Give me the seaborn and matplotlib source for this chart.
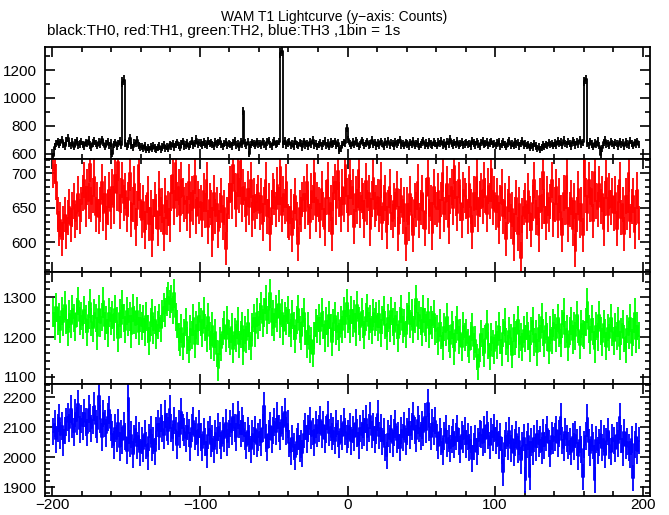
import numpy as np
import matplotlib
matplotlib.use("Agg")
import matplotlib.pyplot as plt
import seaborn as sns
from matplotlib.ticker import MultipleLocator

sns.set_theme(style="ticks")
plt.rcParams['font.family'] = ['Liberation Sans', 'DejaVu Sans']

# ---- data: 1-s bins starting at t = -200 s ----
t_start = -200

th0 = [
    580, 650, 672, 688, 664, 679, 701, 668, 655, 690, 712, 673, 660, 684, 651, 677, 695, 662, 670, 686,
    668, 655, 681, 673, 699, 662, 648, 676, 690, 671, 657, 684, 666, 703, 679, 650, 672, 688, 661, 677,
    600, 668, 681, 655, 672, 690, 663, 1115, 1128, 676, 652, 669, 712, 660, 645, 680, 671, 700, 656, 648,
    652, 638, 661, 630, 644, 627, 650, 635, 658, 641, 629, 647, 655, 633, 648, 662, 640, 651, 637, 666,
    655, 672, 648, 666, 681, 659, 643, 670, 689, 654, 663, 677, 650, 668, 692, 661, 674, 705, 668, 680,
    676, 662, 684, 670, 658, 691, 673, 681, 664, 655, 687, 670, 679, 692, 667, 653, 675, 684, 661, 672,
    668, 655, 679, 690, 662, 673, 648, 684, 670, 905, 676, 660, 687, 598, 665, 682, 671, 657, 688, 669,
    674, 661, 688, 670, 655, 683, 696, 667, 652, 679, 690, 664, 671, 685, 1322, 1336, 668, 692, 659, 677,
    686, 661, 673, 650, 692, 668, 657, 680, 671, 646, 688, 662, 675, 654, 683, 667, 699, 660, 672, 651,
    668, 680, 655, 673, 692, 661, 676, 650, 684, 666, 671, 689, 658, 677, 622, 640, 668, 681, 674, 785,
    702, 671, 657, 683, 664, 690, 676, 652, 668, 695, 680, 661, 674, 688, 659, 670, 699, 665, 681, 654,
    676, 662, 689, 671, 650, 684, 667, 693, 660, 678, 672, 655, 686, 669, 680, 701, 663, 675, 657, 682,
    670, 653, 681, 664, 690, 658, 672, 685, 649, 667, 679, 694, 661, 676, 656, 688, 669, 660, 683, 671,
    658, 684, 672, 690, 663, 677, 651, 686, 668, 704, 673, 660, 681, 666, 692, 657, 675, 683, 662, 670,
    681, 666, 673, 655, 690, 677, 662, 685, 670, 652, 679, 693, 664, 672, 684, 659, 676, 688, 667, 673,
    660, 676, 689, 654, 670, 683, 665, 649, 677, 692, 661, 672, 656, 684, 669, 680, 652, 675, 690, 663,
    671, 657, 666, 643, 660, 648, 672, 655, 639, 651, 628, 645, 662, 650, 667, 656, 680, 664, 673, 658,
    677, 663, 690, 671, 684, 660, 698, 675, 666, 687, 672, 655, 693, 679, 662, 686, 670, 701, 668, 681,
    1118, 1132, 674, 660, 688, 669, 651, 677, 665, 690, 658, 592, 640, 681, 697, 668, 675, 659, 686, 671,
    663, 680, 672, 655, 689, 667, 678, 652, 684, 670, 661, 693, 675, 658, 681, 669, 688, 664,
]

th1 = [
    705, 712, 688, 641, 620, 633, 605, 628, 640, 615, 636, 652, 625, 648, 660, 631, 643, 670, 638, 655,
    672, 690, 648, 681, 660, 714, 655, 668, 695, 640, 662, 637, 655, 688, 642, 670, 628, 651, 676, 645,
    680, 652, 698, 671, 716, 645, 668, 690, 657, 675, 640, 662, 701, 633, 655, 684, 620, 649, 712, 661,
    632, 658, 615, 644, 671, 627, 650, 603, 638, 662, 645, 620, 677, 640, 654, 612, 668, 636, 649, 625,
    672, 698, 650, 715, 662, 681, 640, 690, 667, 655, 660, 642, 688, 631, 671, 650, 697, 638, 664, 652,
    658, 633, 675, 646, 690, 622, 661, 650, 604, 672, 638, 655, 617, 646, 668, 629, 650, 591, 641, 660,
    684, 660, 712, 675, 648, 699, 668, 718, 655, 681, 662, 640, 677, 651, 690, 633, 668, 645, 659, 672,
    643, 668, 627, 655, 690, 638, 661, 612, 650, 675, 666, 648, 683, 655, 710, 640, 670, 652, 687, 631,
    628, 652, 610, 645, 667, 633, 598, 650, 641, 662, 670, 645, 688, 651, 630, 675, 658, 701, 640, 662,
    655, 632, 678, 648, 620, 665, 690, 641, 657, 612, 671, 688, 650, 703, 662, 640, 681, 655, 712, 668,
    640, 698, 665, 681, 623, 670, 652, 705, 647, 668, 660, 631, 689, 651, 672, 620, 663, 694, 648, 657,
    666, 640, 690, 628, 657, 672, 615, 651, 680, 643, 631, 660, 648, 677, 612, 652, 668, 637, 655, 598,
    655, 627, 670, 640, 611, 661, 648, 688, 632, 650, 672, 645, 620, 667, 693, 638, 657, 613, 680, 651,
    648, 675, 630, 662, 700, 641, 658, 685, 622, 667, 681, 650, 711, 664, 642, 690, 657, 632, 676, 668,
    660, 637, 684, 652, 615, 671, 648, 695, 640, 663, 675, 652, 690, 668, 641, 682, 660, 706, 650, 671,
    644, 668, 622, 657, 681, 638, 660, 605, 652, 670, 630, 648, 598, 641, 665, 612, 655, 577, 639, 651,
    660, 630, 675, 642, 618, 657, 690, 636, 650, 611, 668, 645, 702, 652, 628, 671, 640, 659, 690, 633,
    655, 681, 632, 668, 644, 610, 672, 650, 697, 626, 648, 665, 620, 660, 588, 641, 677, 632, 655, 610,
    720, 668, 642, 690, 655, 677, 631, 702, 660, 648, 685, 652, 670, 620, 664, 693, 640, 675, 651, 668,
    642, 671, 620, 658, 690, 636, 655, 612, 667, 644, 700, 631, 652, 668, 615, 650, 676, 628,
]

th2 = [
    1262, 1228, 1275, 1240, 1251, 1219, 1266, 1237, 1280, 1244, 1212, 1258, 1233, 1270, 1247, 1225, 1262, 1291, 1240, 1253,
    1231, 1268, 1245, 1212, 1256, 1285, 1238, 1222, 1261, 1247, 1203, 1270, 1236, 1251, 1290, 1229, 1244, 1211, 1262, 1240,
    1255, 1226, 1271, 1241, 1198, 1260, 1233, 1282, 1247, 1219, 1265, 1238, 1252, 1207, 1274, 1243, 1230, 1266, 1214, 1249,
    1228, 1246, 1213, 1252, 1221, 1190, 1237, 1260, 1218, 1243, 1205, 1231, 1249, 1222, 1258, 1275, 1262, 1290, 1302, 1284,
    1296, 1268, 1310, 1250, 1233, 1201, 1188, 1224, 1176, 1210, 1239, 1192, 1168, 1221, 1205, 1247, 1183, 1230, 1215, 1252,
    1238, 1210, 1265, 1224, 1196, 1251, 1203, 1180, 1227, 1175, 1212, 1158, 1122, 1190, 1173, 1214, 1231, 1196, 1242, 1208,
    1189, 1226, 1170, 1213, 1198, 1241, 1182, 1207, 1229, 1165, 1218, 1194, 1236, 1202, 1178, 1225, 1249, 1211, 1262, 1230,
    1251, 1278, 1236, 1262, 1296, 1244, 1268, 1310, 1239, 1257, 1225, 1270, 1248, 1283, 1233, 1261, 1215, 1252, 1240, 1269,
    1236, 1210, 1257, 1228, 1195, 1244, 1271, 1219, 1203, 1238, 1262, 1214, 1183, 1229, 1170, 1192, 1158, 1204, 1236, 1220,
    1248, 1215, 1262, 1230, 1197, 1241, 1209, 1256, 1224, 1188, 1235, 1252, 1214, 1227, 1201, 1244, 1219, 1265, 1232, 1286,
    1245, 1221, 1268, 1236, 1257, 1212, 1281, 1240, 1226, 1263, 1233, 1205, 1250, 1274, 1229, 1246, 1218, 1260, 1237, 1252,
    1226, 1258, 1210, 1243, 1269, 1231, 1202, 1247, 1222, 1265, 1238, 1214, 1252, 1230, 1197, 1241, 1270, 1219, 1236, 1207,
    1250, 1278, 1233, 1261, 1219, 1245, 1296, 1228, 1256, 1241, 1212, 1270, 1238, 1223, 1264, 1207, 1244, 1230, 1259, 1215,
    1221, 1190, 1235, 1204, 1178, 1226, 1213, 1250, 1196, 1182, 1231, 1207, 1165, 1219, 1242, 1193, 1210, 1174, 1228, 1201,
    1212, 1185, 1168, 1203, 1226, 1177, 1194, 1150, 1125, 1171, 1209, 1188, 1160, 1196, 1233, 1179, 1152, 1201, 1184, 1166,
    1206, 1180, 1227, 1193, 1161, 1210, 1238, 1189, 1172, 1215, 1198, 1156, 1224, 1190, 1207, 1244, 1183, 1201, 1175, 1219,
    1196, 1228, 1203, 1171, 1215, 1240, 1188, 1209, 1162, 1223, 1197, 1250, 1212, 1184, 1229, 1201, 1166, 1218, 1192, 1236,
    1224, 1198, 1247, 1211, 1185, 1232, 1262, 1207, 1221, 1174, 1216, 1240, 1193, 1228, 1203, 1255, 1219, 1180, 1234, 1209,
    1206, 1239, 1288, 1220, 1193, 1245, 1214, 1170, 1228, 1201, 1256, 1215, 1188, 1233, 1210, 1176, 1224, 1199, 1247, 1213,
    1190, 1226, 1203, 1241, 1178, 1214, 1232, 1197, 1169, 1220, 1205, 1248, 1186, 1213, 1262, 1195, 1228, 1204,
]

th3 = [
    2085, 2112, 2060, 2098, 2131, 2073, 2104, 2049, 2090, 2118, 2135, 2098, 2162, 2110, 2084, 2147, 2121, 2176, 2093, 2128,
    2105, 2148, 2117, 2082, 2160, 2131, 2096, 2124, 2171, 2110, 2093, 2205, 2128, 2067, 2146, 2112, 2081, 2135, 2158, 2099,
    2076, 2041, 2098, 2062, 2115, 2033, 2080, 2057, 2104, 2069, 2022, 2198, 2047, 2075, 2010, 2061, 2093, 2038, 2071, 2016,
    2055, 2028, 2079, 2040, 2003, 2066, 2091, 2034, 2057, 2020, 2088, 2112, 2069, 2130, 2095, 2074, 2143, 2101, 2087, 2160,
    2097, 2065, 2122, 2090, 2041, 2113, 2076, 2152, 2099, 2084, 2063, 2105, 2081, 2034, 2097, 2121, 2070, 2088, 2049, 2110,
    2068, 2032, 2085, 2051, 2009, 2074, 2093, 2045, 2062, 2027, 2080, 2056, 2101, 2072, 2038, 2089, 2064, 2115, 2050, 2077,
    2112, 2085, 2134, 2097, 2068, 2140, 2109, 2079, 2121, 2095, 2071, 2039, 2088, 2062, 2026, 2077, 2054, 2093, 2045, 2068,
    2083, 2051, 2097, 2170, 2064, 2032, 2078, 2105, 2058, 2090, 2117, 2085, 2139, 2096, 2071, 2124, 2102, 2150, 2088, 2110,
    2047, 2018, 2063, 2035, 2001, 2052, 2070, 2029, 2044, 2013, 2078, 2103, 2061, 2095, 2120, 2072, 2086, 2049, 2109, 2081,
    2096, 2124, 2075, 2108, 2061, 2093, 2140, 2082, 2101, 2069, 2088, 2055, 2112, 2079, 2043, 2094, 2070, 2118, 2085, 2061,
    2077, 2103, 2054, 2092, 2068, 2115, 2081, 2040, 2096, 2073, 2110, 2084, 2128, 2066, 2097, 2139, 2075, 2101, 2058, 2090,
    2145, 2072, 2098, 2053, 2086, 2034, 2005, 2079, 2061, 2095, 2047, 2082, 2110, 2058, 2073, 2031, 2090, 2066, 2104, 2052,
    2085, 2118, 2074, 2103, 2137, 2090, 2062, 2125, 2096, 2071, 2108, 2084, 2133, 2092, 2180, 2101, 2069, 2115, 2087, 2122,
    2066, 2038, 2084, 2052, 2019, 2071, 2095, 2047, 2063, 2030, 2058, 2081, 2042, 2069, 2096, 2053, 2027, 2074, 2061, 2088,
    2044, 2070, 2031, 2058, 1995, 2036, 2062, 2019, 2053, 2080, 2075, 2049, 2093, 2061, 2108, 2072, 2040, 2086, 2066, 2098,
    2057, 2080, 2041, 2068, 2023, 1950, 2046, 2072, 2036, 2089, 2030, 2061, 2015, 2048, 2076, 2027, 2054, 1990, 2039, 2065,
    1925, 2042, 2070, 1935, 2051, 2019, 2063, 2034, 2077, 2045, 2058, 2022, 2081, 2039, 2066, 2093, 2047, 2012, 2071, 2055,
    2068, 2092, 2047, 2079, 2135, 2056, 2031, 2084, 2062, 2040, 2053, 2018, 2067, 2036, 2075, 2049, 2003, 2058, 2027, 1935,
    2042, 2071, 2130, 2050, 2015, 2066, 2038, 1925, 2059, 2024, 2048, 2077, 2031, 2062, 2009, 2053, 2086, 2040, 2018, 2064,
    2055, 2029, 2073, 2046, 2135, 2061, 2017, 2083, 2039, 2052, 2034, 2010, 2060, 1930, 2043, 2068, 2021, 2055,
]

series = [th0, th1, th2, th3]
colors = ["#000000", "#ff0000", "#00ff00", "#0000ff"]
ylims = [(562, 1365), (557, 721), (1082, 1364), (1871, 2244)]
major = [200, 50, 100, 100]
minor = [100, 10, 20, 20]
x_ticks = [-200, -100, 0, 100, 200]

W, H = 669, 515
fig = plt.figure(figsize=(W / 100, H / 100), dpi=100)
fig.patch.set_facecolor("white")

edges = [47, 159, 272, 384, 496]
left, right = 45, 650
for i, (vals, col) in enumerate(zip(series, colors)):
    top_px, bot_px = edges[i], edges[i + 1]
    ax = fig.add_axes([left / W, 1 - bot_px / H, (right - left) / W, (bot_px - top_px) / H])
    ax.set_facecolor("white")
    y = np.asarray(vals, dtype=float)
    t = t_start + 0.5 + np.arange(len(y))
    sns.lineplot(x=t, y=y, ax=ax, color=col, drawstyle="steps-mid",
                 linewidth=1.3, estimator=None, sort=False)
    err = np.sqrt(y)
    ax.vlines(t, y - err, y + err, color=col, linewidth=1.3)
    ax.set_xlim(-205, 205)
    ax.set_ylim(*ylims[i])
    ax.xaxis.set_major_locator(MultipleLocator(100))
    ax.xaxis.set_minor_locator(MultipleLocator(20))
    ax.yaxis.set_major_locator(MultipleLocator(major[i]))
    ax.yaxis.set_minor_locator(MultipleLocator(minor[i]))
    ax.tick_params(which="both", direction="in", top=True, right=True,
                   labelsize=11, width=1.2, colors="black")
    ax.tick_params(axis="y", pad=6)
    ax.tick_params(axis="x", pad=1.5)
    ax.tick_params(which="major", length=7)
    ax.tick_params(which="minor", length=3.5)
    for s in ax.spines.values():
        s.set_color("black")
        s.set_linewidth(1.3)
    ax.set_xlabel("")
    ax.set_ylabel("")
    ax.grid(False)
    if i < 3:
        ax.tick_params(labelbottom=False)
    else:
        ax.set_xticks(x_ticks)

fig.text(0.5, 1 - 21 / H, "WAM T1 Lightcurve (y\u2212axis: Counts)",
         ha="center", va="baseline", fontsize=10, color="black")
fig.text(47 / W, 1 - 35.5 / H, "black:TH0, red:TH1, green:TH2, blue:TH3 ,1bin = 1s",
         ha="left", va="baseline", fontsize=11, color="black")

fig.savefig("out.png", dpi=100, facecolor="white")
